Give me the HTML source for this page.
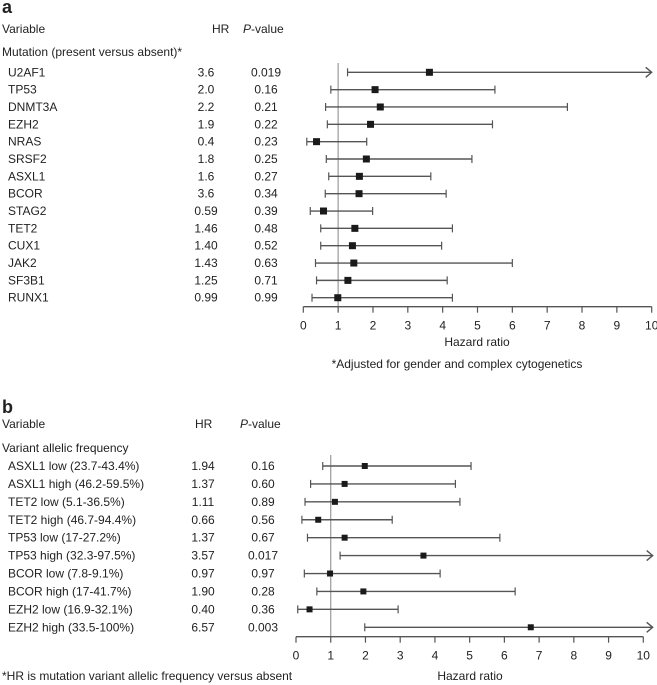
<!DOCTYPE html>
<html><head><meta charset="utf-8"><style>
body{margin:0;background:#fff;}
svg{display:block;font-family:"Liberation Sans",Arial,sans-serif;}
text{fill:#222;font-size:12px;}
</style></head><body>
<svg id="c" width="657" height="685">
<text x="2" y="13" style="font-size:18px;font-weight:bold">a</text>
<text x="2" y="33">Variable</text>
<text x="212" y="33">HR</text>
<text x="243" y="33"><tspan font-style="italic">P</tspan>-value</text>
<text x="2" y="56">Mutation (present versus absent)*</text>
<text x="477" y="346" text-anchor="middle">Hazard ratio</text>
<text x="457" y="368" text-anchor="middle">*Adjusted for gender and complex cytogenetics</text>
<text x="2" y="413" style="font-size:18px;font-weight:bold">b</text>
<text x="2" y="428">Variable</text>
<text x="195" y="428">HR</text>
<text x="240" y="428"><tspan font-style="italic">P</tspan>-value</text>
<text x="2" y="452">Variant allelic frequency</text>
<text x="470" y="680" text-anchor="middle">Hazard ratio</text>
<text x="2" y="680">*HR is mutation variant allelic frequency versus absent</text>
</svg>
<script>
const aLabels=["U2AF1","TP53","DNMT3A","EZH2","NRAS","SRSF2","ASXL1","BCOR","STAG2","TET2","CUX1","JAK2","SF3B1","RUNX1"];
const aHR=["3.6","2.0","2.2","1.9","0.4","1.8","1.6","3.6","0.59","1.46","1.40","1.43","1.25","0.99"];
const aP=["0.019","0.16","0.21","0.22","0.23","0.25","0.27","0.34","0.39","0.48","0.52","0.63","0.71","0.99"];
const aEst=[3.62,2.06,2.21,1.93,0.38,1.81,1.61,1.6,0.58,1.48,1.41,1.45,1.28,0.99];
const aLow=[1.27,0.79,0.64,0.69,0.1,0.66,0.73,0.63,0.2,0.5,0.5,0.35,0.38,0.25];
const aHigh=[10,5.5,7.58,5.43,1.82,4.84,3.66,4.1,1.99,4.28,3.97,6.0,4.13,4.28];
const bLabels=["ASXL1 low (23.7-43.4%)","ASXL1 high (46.2-59.5%)","TET2 low (5.1-36.5%)","TET2 high (46.7-94.4%)","TP53 low (17-27.2%)","TP53 high (32.3-97.5%)","BCOR low (7.8-9.1%)","BCOR high (17-41.7%)","EZH2 low (16.9-32.1%)","EZH2 high (33.5-100%)"];
const bHR=["1.94","1.37","1.11","0.66","1.37","3.57","0.97","1.90","0.40","6.57"];
const bP=["0.16","0.60","0.89","0.56","0.67","0.017","0.97","0.28","0.36","0.003"];
const bEst=[1.98,1.4,1.12,0.64,1.4,3.67,0.98,1.94,0.39,6.76];
const bLow=[0.77,0.42,0.26,0.17,0.33,1.27,0.24,0.6,0.05,1.98];
const bHigh=[5.04,4.59,4.72,2.77,5.87,10.27,4.15,6.31,2.94,10.27];
const ticks=[0,1,2,3,4,5,6,7,8,9,10];
const svg=document.getElementById('c');
const NS='http://www.w3.org/2000/svg';
function mk(t,a){const e=document.createElementNS(NS,t);for(const k in a)e.setAttribute(k,a[k]);svg.appendChild(e);return e;}
function panel(p,labels,hr,pv,est,low,high,cfg){
  const sx=v=>cfg.x0+v*(cfg.x10-cfg.x0)/10;
  const sy=i=>cfg.y0+i*cfg.dy;
  let l=mk('line',{x1:sx(1),x2:sx(1),y1:cfg.refTop,y2:cfg.axisY,stroke:'#999','stroke-width':1.2});
  
  
  let ax=mk('line',{x1:sx(0),x2:sx(10),y1:cfg.axisY,y2:cfg.axisY,stroke:'#555','stroke-width':1.3});
  
  
  ticks.forEach(t=>{
    let tk=mk('line',{x1:sx(t),x2:sx(t),y1:cfg.axisY,y2:cfg.axisY+6,stroke:'#555','stroke-width':1.2});
    
    
    let tl=mk('text',{x:sx(t),y:cfg.axisY+23,'text-anchor':'middle'});tl.textContent=t;
    
    
  });
  labels.forEach((lab,i)=>{
    const y=sy(i);
    let t=mk('text',{x:cfg.labX,y:y+4});t.textContent=lab;
    
    
    let h=mk('text',{x:cfg.hrX,y:y+4,'text-anchor':'middle'});h.textContent=hr[i];
    
    
    let q=mk('text',{x:cfg.pX,y:y+4,'text-anchor':'middle'});q.textContent=pv[i];
    
    
    const arrow=high[i]>=10;
    const hx=sx(Math.min(high[i],cfg.maxV));
    let ci=mk('line',{x1:sx(low[i]),x2:hx,y1:y,y2:y,stroke:'#555','stroke-width':1.4});
    
    
    let c1=mk('line',{x1:sx(low[i]),x2:sx(low[i]),y1:y-4,y2:y+4,stroke:'#555','stroke-width':1.2});
    
    
    if(arrow){
      let ar=mk('polyline',{points:`${hx-6},${y-5} ${hx},${y} ${hx-6},${y+5}`,fill:'none',stroke:'#555','stroke-width':1.4});
      
      
    }else{
      let c2=mk('line',{x1:hx,x2:hx,y1:y-4,y2:y+4,stroke:'#555','stroke-width':1.2});
      
      
    }
    const s=cfg.box;
    let b=mk('rect',{x:sx(est[i])-s/2,y:y-s/2,width:s,height:s,fill:'#1a1a1a'});
    
    
  });
}
panel('panel-a',aLabels,aHR,aP,aEst,aLow,aHigh,{x0:303.3,x10:651.7,y0:72.3,dy:17.34,axisY:306.7,refTop:63,labX:8,hrX:206,pX:266,box:7,maxV:10});
panel('panel-b',bLabels,bHR,bP,bEst,bLow,bHigh,{x0:296,x10:643.3,y0:466,dy:17.92,axisY:636.7,refTop:455,labX:8,hrX:203,pX:263,box:6,maxV:10.27});
</script>
</body></html>
